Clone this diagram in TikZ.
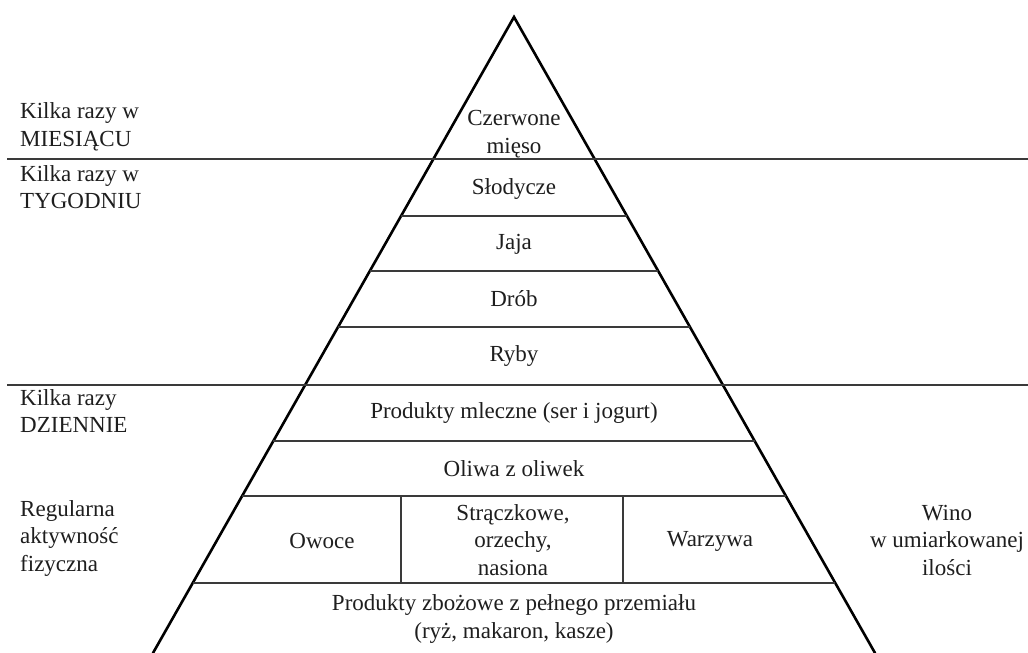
\documentclass[tikz,border=0pt]{standalone}
\usepackage{fontspec}
\setmainfont{Liberation Serif}
\definecolor{ink}{HTML}{1E1E1E}
\definecolor{rule}{HTML}{3A3A3A}
\tikzset{
  lbl/.style={font=\fontsize{23}{27.5}\selectfont, text=ink, inner sep=0pt, align=center},
  leftlbl/.style={lbl, align=left, anchor=west},
  side/.style={line width=2.6pt, black, line cap=round},
  band/.style={line width=1.6pt, rule},
}
\begin{document}
\begin{tikzpicture}[x=1pt,y=-1pt]
\useasboundingbox (0,0) rectangle (1028,653);
% triangle sides
\coordinate (apex) at (514,17);
\coordinate (bl) at (153,653);
\coordinate (br) at (875,653);
\draw[side] (bl) -- (apex) -- (br);
% full width lines
\draw[band] (7,159) -- (1028,159);
\draw[band] (7,385) -- (1028,385);
% band lines inside pyramid
\foreach \y in {216,271,327,441,496,583}{
  \draw[band] ({514-0.5676*(\y-17)},\y) -- ({514+0.5676*(\y-17)},\y);
}
% vertical dividers
\draw[band] (401,496) -- (401,583);
\draw[band] (623,496) -- (623,583);
% pyramid texts
\node[lbl] (mieso) at (514,134) {Czerwone\\mięso};
\node[lbl] (slod) at (514,189) {Słodycze};
\node[lbl] (jaja) at (514,244) {Jaja};
\node[lbl] (drob) at (514,299) {Drób};
\node[lbl] (ryby) at (514,356) {Ryby};
\node[lbl] (mleko) at (514,413) {Produkty mleczne (ser i jogurt)};
\node[lbl] (oliwa) at (514,469) {Oliwa z oliwek};
\node[lbl] (owoce) at (322,541) {Owoce};
\node[lbl] (strak) at (513,540) {Strączkowe,\\orzechy,\\nasiona};
\node[lbl] (warz) at (710,541) {Warzywa};
\node[lbl] (zboza) at (514,619) {Produkty zbożowe z pełnego przemiału\\(ryż, makaron, kasze)};
% side labels
\node[leftlbl] (mies) at (20,127) {Kilka razy w\\MIESIĄCU};
\node[leftlbl] (tydz) at (20,187) {Kilka razy w\\TYGODNIU};
\node[leftlbl] (dzien) at (20,411) {Kilka razy\\DZIENNIE};
\node[leftlbl] (aktyw) at (20,538) {Regularna\\aktywność\\fizyczna};
\node[lbl] (wino) at (947,540) {Wino\\w umiarkowanej\\ilości};
\end{tikzpicture}
\end{document}
